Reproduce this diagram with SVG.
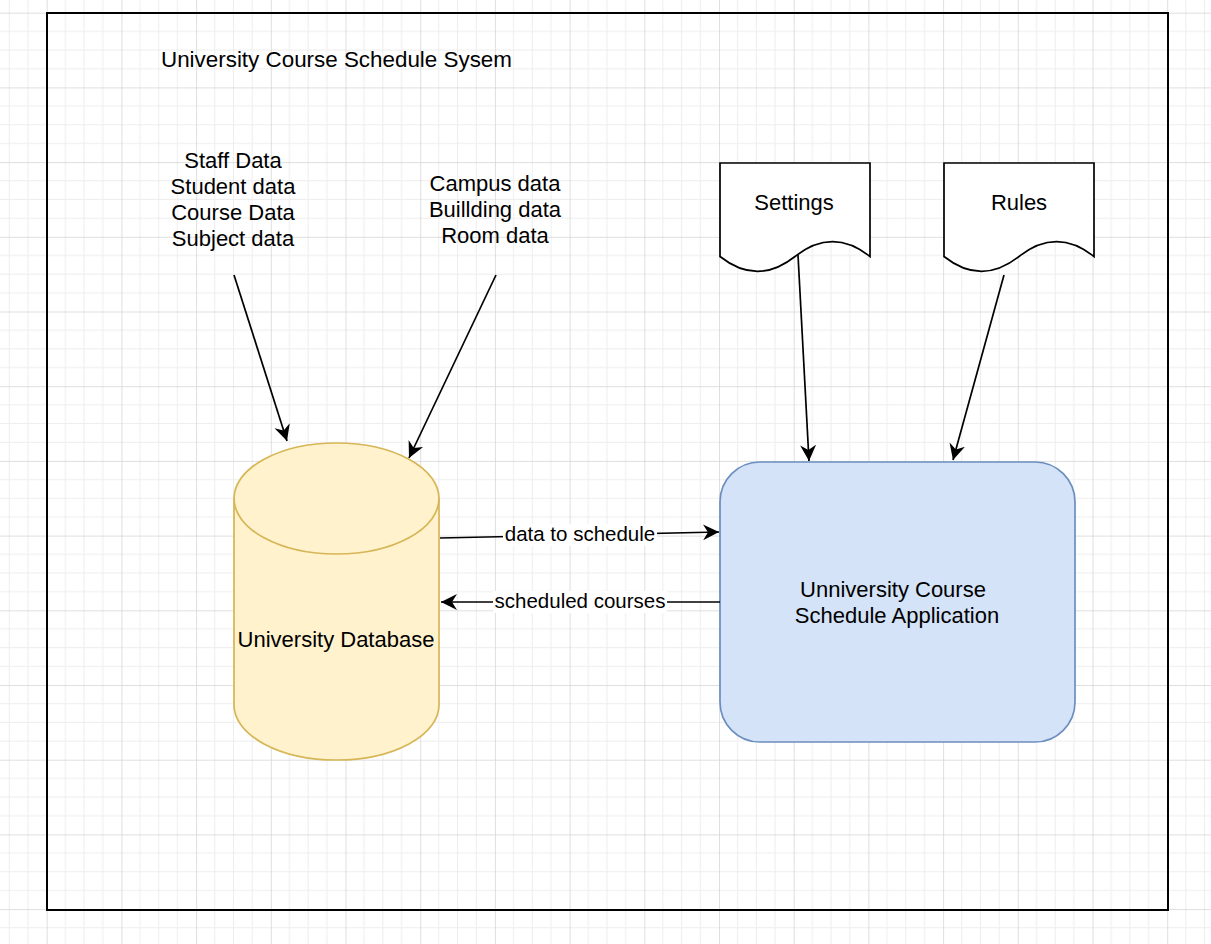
<svg xmlns="http://www.w3.org/2000/svg" width="1211" height="944" viewBox="0 0 1211 944">
  <style>
    text { font-family: "Liberation Sans", Arial, sans-serif; fill: #000; }
    .t22 { font-size: 22px; }
    .title { font-size: 22.4px; }
    .lbl { font-size: 20.5px; }
    .edge { fill: none; stroke: #000; stroke-width: 1.7; marker-end: url(#arrow); }
    .doc { fill: #fff; stroke: #000; stroke-width: 1.7; }
  </style>
  <defs>
    <pattern id="grid" patternUnits="userSpaceOnUse" x="46.7" y="12.7" width="74.7" height="74.7">
      <rect x="18.175" y="0" width="1" height="74.7" fill="#ededed"/>
      <rect x="36.85" y="0" width="1" height="74.7" fill="#ededed"/>
      <rect x="55.525" y="0" width="1" height="74.7" fill="#ededed"/>
      <rect x="0" y="18.175" width="74.7" height="1" fill="#ededed"/>
      <rect x="0" y="36.85" width="74.7" height="1" fill="#ededed"/>
      <rect x="0" y="55.525" width="74.7" height="1" fill="#ededed"/>
      <rect x="-0.5" y="0" width="1.2" height="74.7" fill="#d2d2d2"/>
      <rect x="0" y="-0.5" width="74.7" height="1.2" fill="#d2d2d2"/>
    </pattern>
    <marker id="arrow" markerUnits="userSpaceOnUse" markerWidth="20" markerHeight="20" viewBox="0 -10 20 20" refX="16" refY="0" orient="auto">
      <path d="M0,-8 L16,0 L0,8 L5,0 Z" fill="#000"/>
    </marker>
  </defs>

  <rect x="0" y="0" width="1211" height="944" fill="#fff"/>
  <rect x="0" y="0" width="1211" height="944" fill="url(#grid)"/>

  <g id="system-boundary">
    <rect x="47" y="13" width="1121" height="897" fill="none" stroke="#000" stroke-width="2"/>
    <text class="title" x="161" y="67">University Course Schedule Sysem</text>
  </g>

  <g id="people-data">
    <text class="t22" text-anchor="middle" x="233" y="168">Staff Data</text>
    <text class="t22" text-anchor="middle" x="233" y="194">Student data</text>
    <text class="t22" text-anchor="middle" x="233" y="220">Course Data</text>
    <text class="t22" text-anchor="middle" x="233" y="246">Subject data</text>
  </g>

  <g id="campus-data">
    <text class="t22" text-anchor="middle" x="495" y="191">Campus data</text>
    <text class="t22" text-anchor="middle" x="495" y="217">Buillding data</text>
    <text class="t22" text-anchor="middle" x="495" y="243">Room data</text>
  </g>

  <g id="settings">
    <path class="doc" d="M720,163 H870 V256.5 Q832.5,226.8 795,256.5 Q757.5,286.2 720,256.5 Z"/>
    <text class="t22" text-anchor="middle" x="794" y="210">Settings</text>
  </g>

  <g id="rules">
    <path class="doc" d="M944,163 H1094 V256.5 Q1056.5,226.8 1019,256.5 Q981.5,286.2 944,256.5 Z"/>
    <text class="t22" text-anchor="middle" x="1019" y="210">Rules</text>
  </g>

  <g id="university-database">
    <path d="M234,498.5 A102.5,55.5 0 0 1 439,498.5 L439,705 A102.5,55 0 0 1 234,705 Z" fill="#fff2cc" stroke="#d6b656" stroke-width="1.7"/>
    <path d="M234,498.5 A102.5,55.5 0 0 0 439,498.5" fill="none" stroke="#d6b656" stroke-width="1.7"/>
    <text class="t22" text-anchor="middle" x="336" y="647">University Database</text>
  </g>

  <g id="schedule-application">
    <rect x="720" y="462" width="355" height="280" rx="40" ry="40" fill="#d4e3f8" stroke="#6c8ebf" stroke-width="1.7"/>
    <text class="t22" text-anchor="middle" x="893" y="597">Unniversity Course</text>
    <text class="t22" text-anchor="middle" x="897" y="623">Schedule Application</text>
  </g>

  <g id="connectors">
    <line class="edge" x1="234" y1="275" x2="287" y2="441"/>
    <line class="edge" x1="496" y1="275" x2="409" y2="458"/>
    <line class="edge" x1="798" y1="255" x2="809" y2="461"/>
    <line class="edge" x1="1004" y1="275" x2="953" y2="460"/>
    <line class="edge" x1="440" y1="538" x2="719" y2="532"/>
    <line class="edge" x1="720" y1="602" x2="441" y2="602"/>
    <rect x="503" y="524" width="154" height="22" fill="#fff"/>
    <text class="lbl" text-anchor="middle" x="580" y="541">data to schedule</text>
    <rect x="493" y="591" width="174" height="22" fill="#fff"/>
    <text class="lbl" text-anchor="middle" x="580" y="608">scheduled courses</text>
  </g>
</svg>
